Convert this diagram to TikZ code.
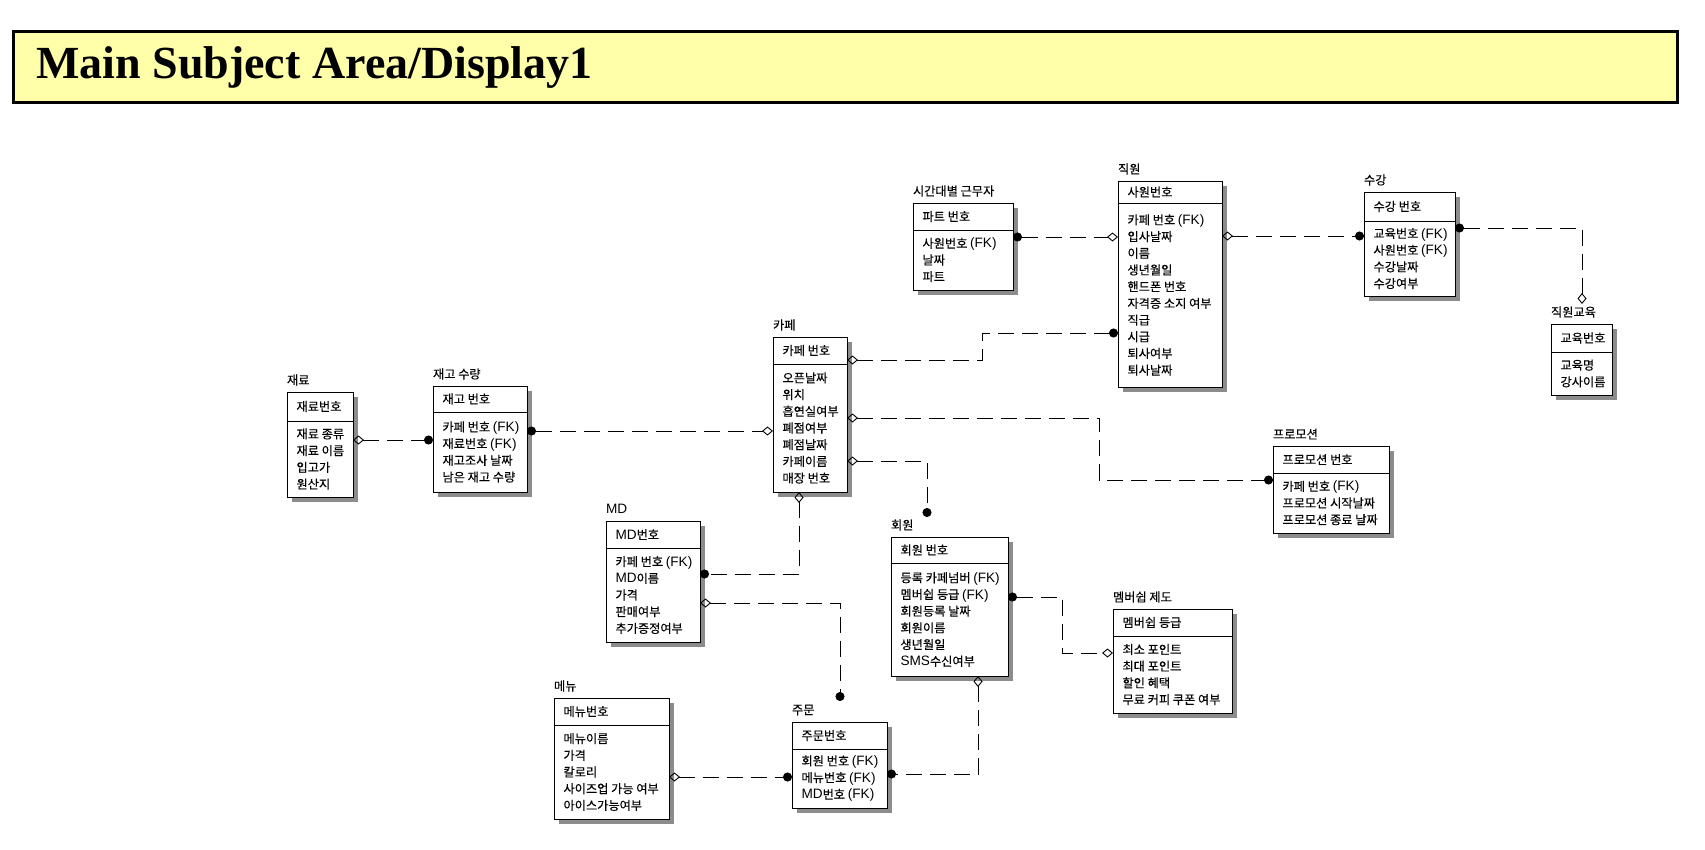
\documentclass[tikz,border=0pt]{standalone}
\usepackage{fontspec}
\setmainfont{Liberation Serif}
\newfontfamily\kr[FakeBold=0.25]{Noto Sans CJK KR}
\newfontfamily\lsans{Liberation Sans}
\newcommand\la[1]{{\lsans\fontsize{13.6}{16.7}\selectfont #1}}
\usetikzlibrary{arrows.meta}
\definecolor{hdrfill}{RGB}{255,255,170}
\definecolor{shadowc}{RGB}{140,140,140}
\tikzset{
  ebox/.style={draw, line width=1pt, fill=white, inner sep=0pt, outer sep=0pt},
  etext/.style={font=\kr\fontsize{12.2}{16.7}\selectfont, inner sep=0pt, outer sep=0pt, align=left},
  hdrbox/.style={draw, line width=3pt, fill=hdrfill, inner sep=0pt, outer sep=0pt},
  rel/.style={line width=1pt, dash pattern=on 16pt off 8pt},
  odia/.tip={Diamond[open, length=11pt, width=9pt, line width=0.9pt]},
  fdot/.tip={Circle[length=9pt]},
}
% #1 name, #2 left, #3 top, #4 right, #5 divider, #6 bottom, #7 label, #8 key, #9 attributes
\newcommand\erbox[9]{%
  \pgfmathsetmacro\erw{#4-#2}%
  \pgfmathsetmacro\erh{#6-#3}%
  \fill[shadowc] (#2+5,#3+5) rectangle (#4+5,#6+5);
  \node[ebox, minimum width=\erw pt, minimum height=\erh pt, anchor=north west] (#1) at (#2,#3) {};
  \draw[line width=1pt] (#2,#5) -- (#4,#5);
  \node[etext, anchor=west] (#1-lab) at (#2,#3-12) {#7};
  \node[etext, anchor=west] (#1-key) at (#2+9.5,{(#3+#5)/2}) {#8};
  \node[etext, anchor=west] (#1-att) at (#2+9.5,{(#5+#6)/2}) {#9};
}
\begin{document}
\begin{tikzpicture}[x=1pt,y=-1pt]
\useasboundingbox (0,0) rectangle (1705,849);
\node[hdrbox, minimum width=1664pt, minimum height=71pt, anchor=north west] (header) at (13,31) {};
\node[anchor=base west, inner sep=0pt, font=\bfseries\fontsize{46}{50}\selectfont] (title) at (36,78) {Main Subject Area/Display1};

\erbox{jaeryo}{287}{392}{353}{421}{497}{재료}{재료번호}{재료 종류\\재료 이름\\입고가\\원산지}
\erbox{stock}{433}{386}{527}{412}{492}{재고 수량}{재고 번호}{카페 번호 \la{(FK)}\\재료번호 \la{(FK)}\\재고조사 날짜\\남은 재고 수량}
\erbox{cafe}{773}{337}{847}{364}{492}{카페}{카페 번호}{오픈날짜\\위치\\흡연실여부\\폐점여부\\폐점날짜\\카페이름\\매장 번호}
\erbox{part}{913}{203}{1013}{230}{290}{시간대별 근무자}{파트 번호}{사원번호 \la{(FK)}\\날짜\\파트}
\erbox{staff}{1118}{181}{1222}{203}{387}{직원}{사원번호}{카페 번호 \la{(FK)}\\입사날짜\\이름\\생년월일\\핸드폰 번호\\자격증 소지 여부\\직급\\시급\\퇴사여부\\퇴사날짜}
\erbox{course}{1364}{192}{1455}{221}{296}{수강}{수강 번호}{교육번호 \la{(FK)}\\사원번호 \la{(FK)}\\수강날짜\\수강여부}
\erbox{edu}{1551}{324}{1612}{352}{395}{직원교육}{교육번호}{교육명\\강사이름}
\erbox{promo}{1273}{446}{1389}{473}{533}{프로모션}{프로모션 번호}{카페 번호 \la{(FK)}\\프로모션 시작날짜\\프로모션 종료 날짜}
\erbox{md}{606}{521}{700}{548}{642}{\la{MD}}{\la{MD}번호}{카페 번호 \la{(FK)}\\\la{MD}이름\\가격\\판매여부\\추가증정여부}
\erbox{member}{891}{537}{1008}{563}{676}{회원}{회원 번호}{등록 카페넘버 \la{(FK)}\\멤버쉽 등급 \la{(FK)}\\회원등록 날짜\\회원이름\\생년월일\\\la{SMS}수신여부}
\erbox{grade}{1113}{609}{1232}{636}{713}{멤버쉽 제도}{멤버쉽 등급}{최소 포인트\\최대 포인트\\할인 혜택\\무료 커피 쿠폰 여부}
\erbox{menu}{554}{698}{669}{725}{819}{메뉴}{메뉴번호}{메뉴이름\\가격\\칼로리\\사이즈업 가능 여부\\아이스가능여부}
\erbox{order}{792}{722}{887}{749}{808}{주문}{주문번호}{회원 번호 \la{(FK)}\\메뉴번호 \la{(FK)}\\\la{MD}번호 \la{(FK)}}

\coordinate (eduT) at (1582,304);
\coordinate (memT) at (927,517);
\coordinate (ordT) at (840,701);

\draw[rel, odia-fdot] (jaeryo.east |- 0,440) -- (stock.west |- 0,440);
\draw[rel, fdot-odia] (stock.east |- 0,431) -- (cafe.west |- 0,431);
\draw[rel, odia-fdot] (cafe.east |- 0,360) -- (982,360) -- (982,333) -- (staff.west |- 0,333);
\draw[rel, fdot-odia] (part.east |- 0,237) -- (staff.west |- 0,237);
\draw[rel, odia-fdot] (staff.east |- 0,236) -- (course.west |- 0,236);
\draw[rel, fdot-odia] (course.east |- 0,228) -- (eduT |- 0,228) -- (eduT);
\draw[rel, odia-fdot] (cafe.east |- 0,418) -- (1099,418) -- (1099,480) -- (promo.west |- 0,480);
\draw[rel, odia-fdot] (cafe.east |- 0,461) -- (memT |- 0,461) -- (memT);
\draw[rel, odia-fdot] (cafe.south -| 799,0) -- (799,574) -- (md.east |- 0,574);
\draw[rel, odia-fdot] (md.east |- 0,603) -- (ordT |- 0,603) -- (ordT);
\draw[rel, fdot-odia] (member.east |- 0,597) -- (1062,597) -- (1062,653) -- (grade.west |- 0,653);
\draw[rel, odia-fdot] (member.south -| 978,0) -- (978,774) -- (order.east |- 0,774);
\draw[rel, odia-fdot] (menu.east |- 0,777) -- (order.west |- 0,777);
\end{tikzpicture}
\end{document}
